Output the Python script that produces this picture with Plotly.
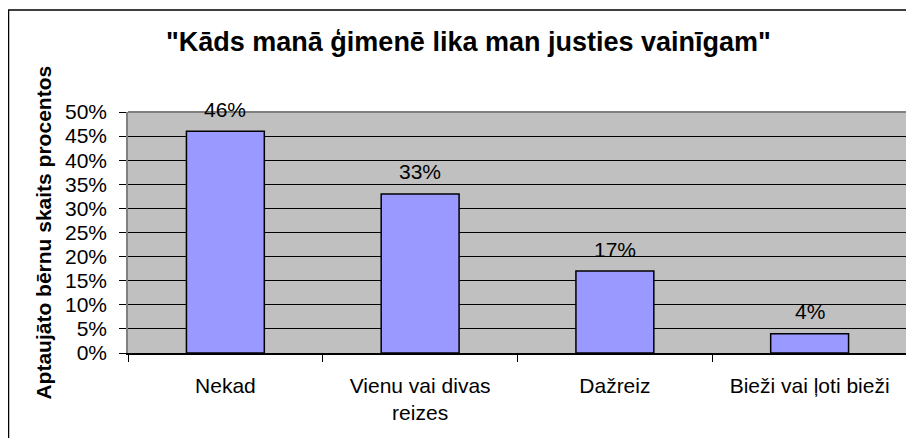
import plotly.graph_objects as go

categories = ["Nekad", "Vienu vai divas<br>reizes", "Dažreiz", "Bieži vai ļoti bieži"]
values = [46, 33, 17, 4]
value_labels = ["46%", "33%", "17%", "4%"]
tick_vals = [0, 5, 10, 15, 20, 25, 30, 35, 40, 45, 50]
tick_text = ["0%", "5%", "10%", "15%", "20%", "25%", "30%", "35%", "40%", "45%", "50%"]
title_text = "\"Kāds manā ģimenē lika man justies vainīgam\""
ytitle_text = "Aptaujāto bērnu skaits procentos"

FONT = "Liberation Sans, Arial, sans-serif"

fig = go.Figure()
fig.add_trace(go.Bar(
    x=categories, y=values, width=0.4,
    marker=dict(color="#9999FF", line=dict(color="black", width=1.5)),
    hoverinfo="skip",
))

annotations = []
for c, v, t in zip(categories, values, value_labels):
    annotations.append(dict(x=c, y=v, xref="x", yref="y", text=t, showarrow=False,
                            yanchor="middle", yshift=22,
                            font=dict(family=FONT, size=21, color="black")))
annotations.append(dict(x=0.4365, y=1.29, xref="paper", yref="paper", text="<b>" + title_text + "</b>",
                        showarrow=False, xanchor="center", yanchor="middle",
                        font=dict(family=FONT, size=27, color="black")))
annotations.append(dict(x=-0.109, y=0.5, xref="paper", yref="paper", text="<b>" + ytitle_text + "</b>",
                        showarrow=False, textangle=-90, xanchor="center", yanchor="middle",
                        font=dict(family=FONT, size=21, color="black")))

fig.update_layout(
    width=906, height=430,
    margin=dict(l=120, r=7, t=104, b=85, autoexpand=False),
    paper_bgcolor="white", plot_bgcolor="#C0C0C0",
    showlegend=False,
    annotations=annotations,
    shapes=[
        dict(type="rect", xref="paper", yref="paper", x0=-0.1534, y0=-0.394, x1=1.0141, y1=1.4232,
             line=dict(color="black", width=1.5), fillcolor="rgba(0,0,0,0)", layer="below"),
        dict(type="line", xref="paper", yref="paper", x0=0, y0=1, x1=1, y1=1,
             line=dict(color="#808080", width=2), layer="above"),
    ],
    bargap=0.6,
)
fig.update_xaxes(
    type="category", tickson="boundaries", ticks="outside", ticklen=7, tickcolor="black",
    showline=True, linecolor="black", linewidth=1.5, showgrid=False, automargin=False,
    tickfont=dict(family=FONT, size=21, color="black"), ticklabelstandoff=13,
)
fig.update_yaxes(
    range=[0, 50], tickvals=tick_vals, ticktext=tick_text,
    ticks="outside", ticklen=7, tickcolor="black", automargin=False,
    showline=True, linecolor="#808080", linewidth=1.5, mirror=True,
    showgrid=True, gridcolor="black", gridwidth=1, zeroline=False,
    tickfont=dict(family=FONT, size=21, color="black"), ticklabelstandoff=8,
)
fig.write_html("out.html")
